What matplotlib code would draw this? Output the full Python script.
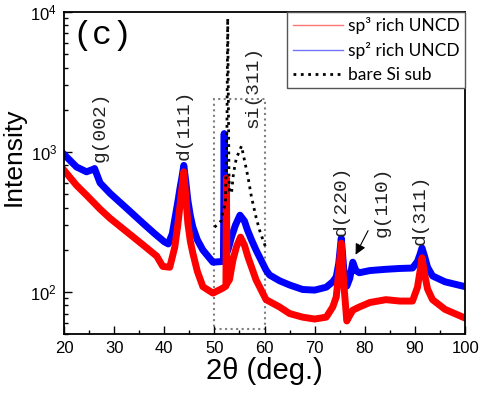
import matplotlib.pyplot as plt
from matplotlib.patches import Rectangle

plt.rcParams['font.family'] = ['Liberation Sans', 'DejaVu Sans']

# sp2 rich UNCD (blue)
sp2_x = [20, 22.5, 24.5, 25.8, 26.1, 27.2, 29.2, 32.5, 35.8, 38.0, 40.0, 40.8,
         41.6, 42.4, 42.8, 43.1, 43.5, 43.9, 44.3, 44.7, 45.2, 45.7, 46.6,
         47.7, 49.7, 51.8, 51.95, 52.1, 52.7, 53.4, 54.2, 55.1, 56.0, 56.6,
         57.4, 58.3, 60.3, 61, 63, 65, 67.6, 70, 72.3, 73.6, 74.3, 74.8, 75.3,
         75.8, 76.4, 77.0, 77.6, 78.2, 78.9, 81, 84.2, 87, 89.5, 90.5, 91.0,
         91.4, 91.9, 92.5, 93.5, 96, 100]
sp2_y = [960, 780, 720, 750, 760, 600, 505, 395, 308, 262, 228, 220,
         260, 380, 460, 540, 650, 800, 610, 452, 350, 290, 235,
         199, 163, 165, 1350, 180, 199, 246, 300, 353, 320, 276,
         235, 199, 143, 132, 120, 112, 104, 103, 108, 118, 128, 160, 242,
         145, 110, 125, 163, 142, 137, 142, 145, 147, 148, 165, 185,
         206, 180, 150, 130, 118, 109]

# sp3 rich UNCD (red)
sp3_x = [20, 22.5, 24.5, 25.8, 27.2, 29.2, 32.5, 35.8, 38.5, 39.7, 41.1, 42.1,
         42.7, 43.1, 43.5, 43.9, 44.3, 44.7, 45.2, 45.7, 46.6, 47.7, 49.7,
         51.6, 52.3, 52.4, 52.5, 53.0, 53.7, 54.4, 55.2, 56.0, 56.7, 58.3,
         60.3, 63, 65, 67.6, 70, 72.3, 73.6, 74.3, 74.8, 75.3, 75.8, 76.4,
         77.0, 77.6, 78.9, 81, 84.2, 87, 89.5, 90.5, 91.0, 91.4, 91.9, 92.5,
         93.5, 96, 100]
sp3_y = [740, 577, 490, 439, 390, 335, 269, 216, 180, 152, 150, 209,
         300, 403, 540, 720, 480, 310, 230, 189, 140, 109, 98,
         106, 110, 650, 115, 122, 169, 210, 246, 215, 177, 122,
         88, 78, 70, 66, 64, 66, 78, 92, 140, 223, 115, 62,
         68, 74, 78, 84, 88, 86, 86, 108, 140, 175, 135, 105,
         88, 75, 65]

# bare Si substrate (black dotted)
si_x = [50.0, 50.5, 51.0, 51.4, 51.7, 52.2, 52.5, 52.65, 52.9, 53.0, 53.4,
        53.8, 54.4, 54.8, 55.4, 56.0, 56.7, 57.4, 58.3, 59.0, 59.7, 60.2]
si_y = [290, 300, 310, 325, 383, 420, 1500, 9000, 700, 530, 505,
        700, 912, 975, 1100, 870, 660, 474, 342, 276, 234, 210]

# peak labels
peak_labels = ['g(002)', 'd(111)', 'si(311)', 'd(220)', 'g(110)', 'd(311)']
peak_label_x = [27.2, 43.9, 57.6, 75.2, 83.5, 91.0]
peak_label_y = [850, 880, 1490, 250, 245, 216]

# zoom box around the Si region
box_x = (50, 60)
box_y = (54, 2400)

fig, ax = plt.subplots(figsize=(4.81, 3.93), dpi=100)
fig.subplots_adjust(left=0.133, right=0.967, bottom=0.150, top=0.970)

ax.plot(sp2_x, sp2_y, color='#0000ff', lw=5, solid_joinstyle='round',
        label='sp\u00b2 rich UNCD')
ax.plot(sp3_x, sp3_y, color='#ff0000', lw=5, solid_joinstyle='round',
        label='sp\u00b3 rich UNCD')
ax.plot(si_x, si_y, color='black', lw=2, linestyle=':', label='bare Si sub')

ax.add_patch(Rectangle((box_x[0], box_y[0]), box_x[1] - box_x[0],
                       box_y[1] - box_y[0], fill=False, edgecolor='#808080',
                       lw=1.5, linestyle=':'))

for txt, x, y in zip(peak_labels, peak_label_x, peak_label_y):
    ax.text(x, y, txt, rotation=90, ha='center', va='bottom',
            family='Liberation Mono', fontsize=14, color='#222222')

ax.annotate('', xy=(77.9, 177), xytext=(80.9, 285),
            arrowprops=dict(arrowstyle='-|>', color='black', lw=0.8,
                            mutation_scale=16))

ax.text(0.022, 0.975, '(c)', transform=ax.transAxes, ha='left', va='top',
        family='Liberation Mono', fontsize=24)

ax.set_yscale('log')
ax.set_xlim(20, 100)
ax.set_ylim(50, 1e4)
ax.set_xticks(range(20, 101, 10))
ax.set_xticks(range(25, 100, 10), minor=True)
ax.tick_params(which='both', direction='in', top=False, right=False,
               labelsize=12, pad=5)
ax.tick_params(which='major', length=6, width=1)
ax.tick_params(which='minor', length=3, width=1)
for s in ax.spines.values():
    s.set_linewidth(1.3)

ax.set_xlabel('2\u03b8 (deg.)', fontsize=21, labelpad=1)
ax.set_ylabel('Intensity', fontsize=19, labelpad=4)
ax.yaxis.set_label_coords(-0.095, 0.55)

handles, labels = ax.get_legend_handles_labels()
order = [1, 0, 2]
leg = ax.legend([handles[i] for i in order], [labels[i] for i in order],
                loc='upper right', borderaxespad=0, fancybox=False,
                edgecolor='#555555', framealpha=1,
                prop={'family': 'Lato', 'size': 12.5}, handlelength=2.9,
                handletextpad=0.3, borderpad=0.3, labelspacing=0.45)
leg.get_frame().set_linewidth(1)
for ln in leg.get_lines()[:2]:
    ln.set_linewidth(1)
    ln.set_alpha(0.55)

fig.savefig('out.png', dpi=100)
